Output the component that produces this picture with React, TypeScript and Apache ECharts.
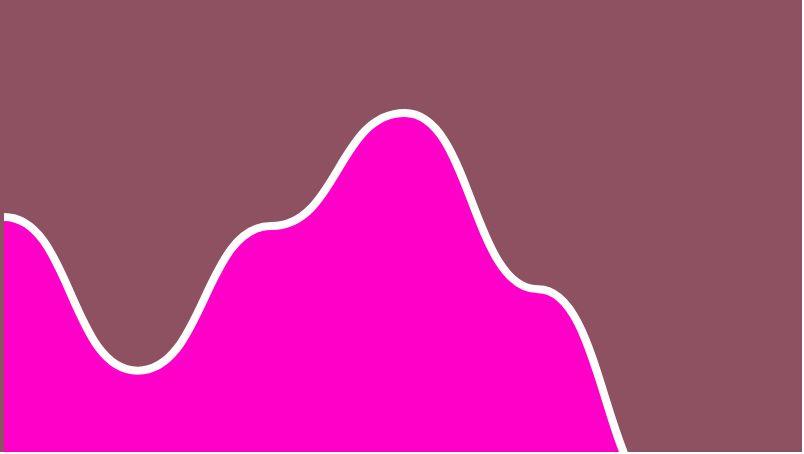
import React, { useEffect, useRef } from "react";
import * as echarts from "echarts";

const categories = ["A", "B", "C", "D", "E", "F"];
const values = [52, 18, 50, 75, 36, -12];

const BG = "#8e5162";
const FILL = "#ff00c8";

const App: React.FC = () => {
  const chartRef = useRef<HTMLDivElement>(null);

  useEffect(() => {
    document.body.style.margin = "0";
    if (!chartRef.current) return;
    const chart = echarts.init(chartRef.current, undefined, { renderer: "svg" });

    // bump-style curve: horizontal tangents at every point
    const renderItem = (params: any, api: any) => {
      if (params.dataIndex !== 0) return null;
      const pts = values.map((v, i) => api.coord([i, v]));
      const bottom = params.coordSys.y + params.coordSys.height;
      let d = `M${pts[0][0]},${pts[0][1]}`;
      for (let i = 0; i < pts.length - 1; i++) {
        const mx = (pts[i][0] + pts[i + 1][0]) / 2;
        d += ` C${mx},${pts[i][1]} ${mx},${pts[i + 1][1]} ${pts[i + 1][0]},${pts[i + 1][1]}`;
      }
      const last = pts[pts.length - 1];
      const area = `${d} L${last[0]},${bottom} L${pts[0][0]},${bottom} Z`;
      return {
        type: "group",
        children: [
          { type: "path", shape: { pathData: area }, style: { fill: FILL, stroke: "none" } },
          {
            type: "path",
            shape: { pathData: d },
            style: { fill: "none", stroke: "#ffffff", lineWidth: 8, lineJoin: "round" },
          },
        ],
      };
    };

    chart.setOption({
      animation: false,
      backgroundColor: BG,
      grid: { left: 4, right: 130, top: 0, bottom: 0 },
      xAxis: { type: "category", data: categories, boundaryGap: false, show: false },
      yAxis: { type: "value", min: 0, max: 100, show: false },
      series: [
        {
          type: "custom",
          renderItem,
          clip: false,
          data: values.map((v, i) => [i, v]),
        },
      ],
    });

    return () => {
      chart.dispose();
    };
  }, []);

  return <div ref={chartRef} style={{ width: 802, height: 452 }} />;
};

export default App;
